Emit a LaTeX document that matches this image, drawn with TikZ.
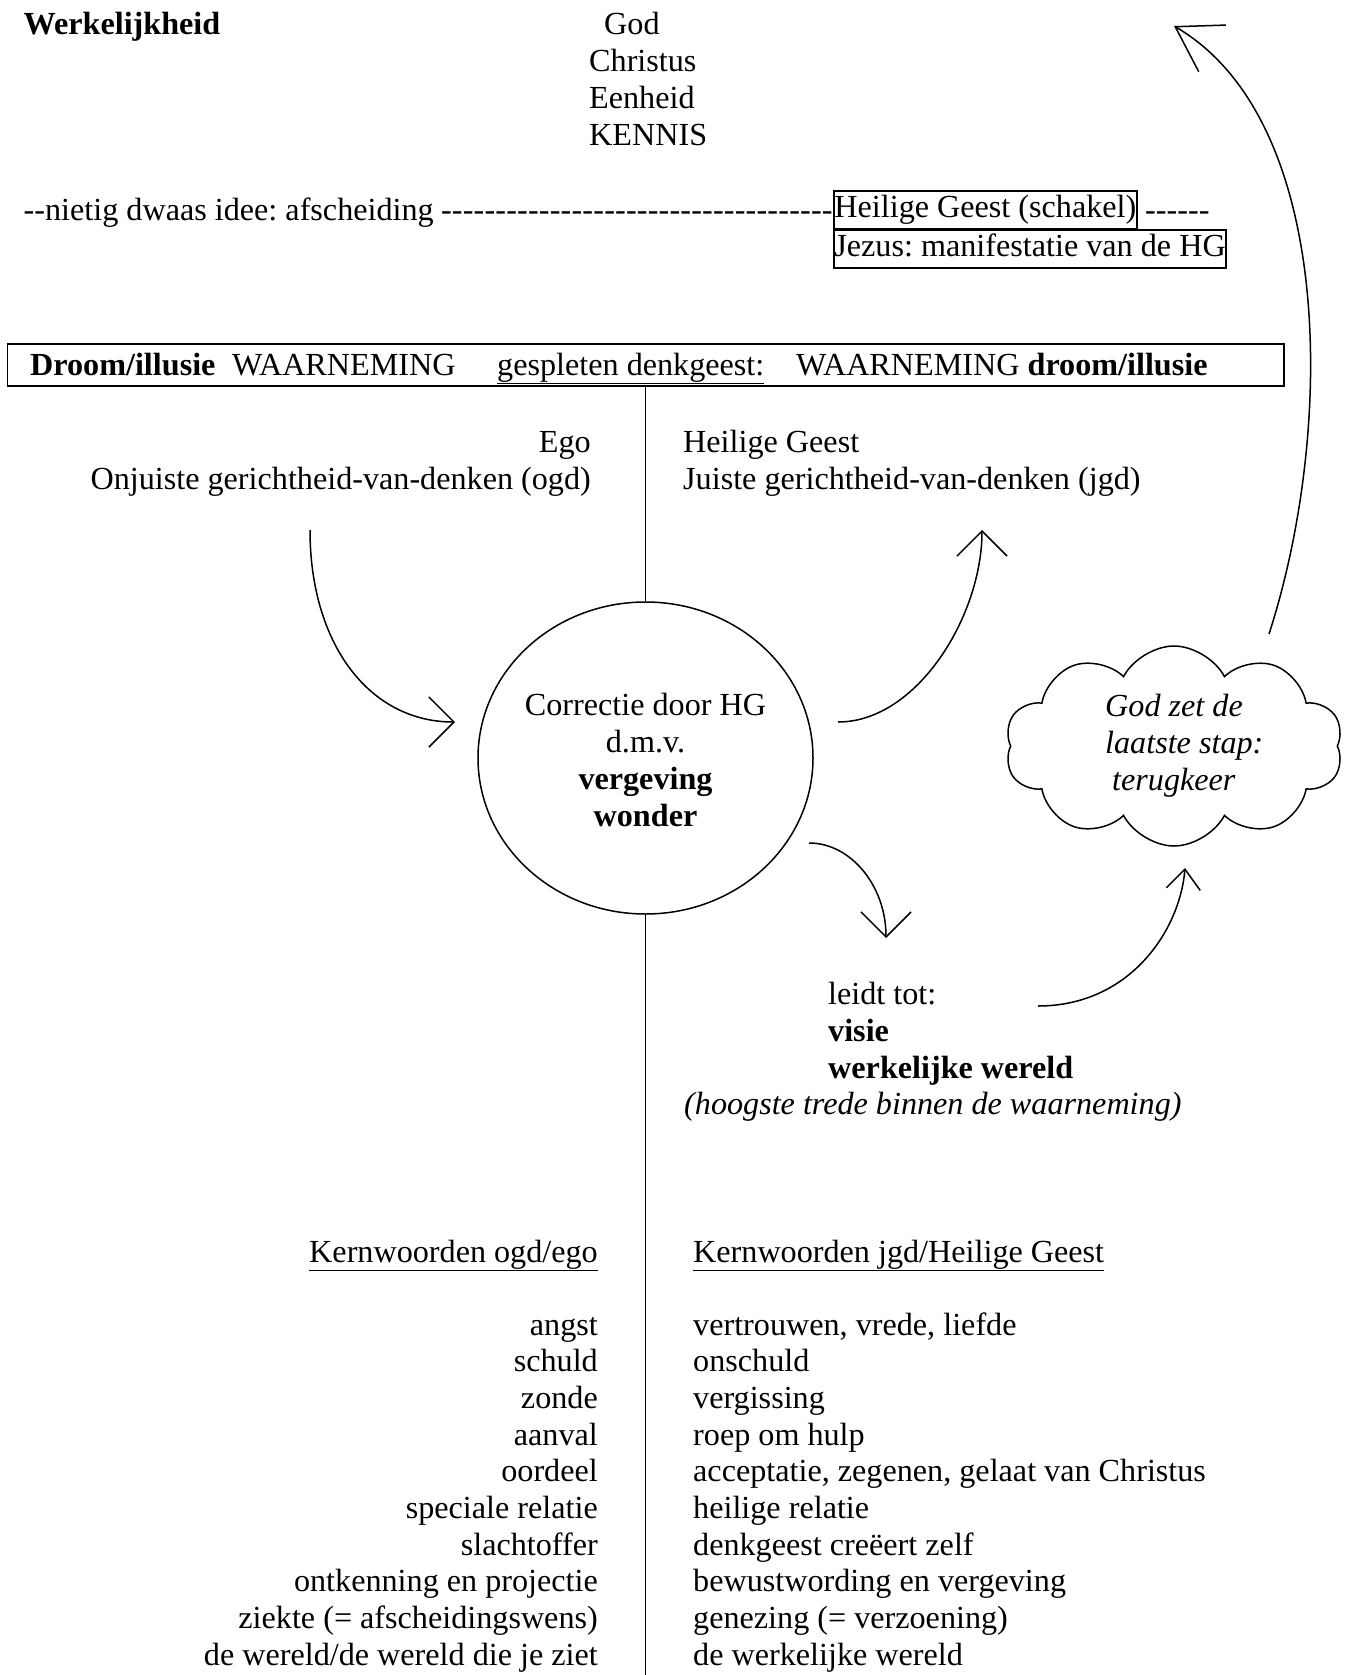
\documentclass[tikz,border=0pt]{standalone}
\usepackage{fontspec}
\setmainfont{Liberation Serif}
\usetikzlibrary{arrows.meta,shapes.geometric,shapes.symbols}
\newcount\hypcnt
\newcommand\hyps[1]{\hypcnt=0 \loop\ifnum\hypcnt<#1 -\kern0pt\advance\hypcnt by 1 \repeat}
\newcommand\hypsw[1]{\hypcnt=0 \loop\ifnum\hypcnt<#1 -\kern0.17pt\advance\hypcnt by 1 \repeat}
\frenchspacing
\begin{document}
\begin{tikzpicture}[x=1pt,y=-1pt,
  every node/.style={font=\fontsize{32.17}{37}\selectfont\frenchspacing, inner sep=0pt},
  tl/.style={anchor=base west},
  tr/.style={anchor=base east},
  boxed/.style={draw, line width=1.8pt, inner xsep=0.5pt, inner ysep=3pt, text height=24pt, text depth=8pt, anchor=north west},
  conn/.style={line width=1.5pt, -{Straight Barb[length=25pt,width=50pt]}},
  rul/.style={line width=1.5pt}]
\useasboundingbox (0,0) rectangle (1358,1675);

% top: reality
\node[tl, font=\fontsize{32.17}{37}\selectfont\bfseries] (werk) at (23.5,35) {Werkelijkheid};
\node[tl] (god) at (604,35) {God};
\node[tl] (christus) at (589,72) {Christus};
\node[tl] (eenheid) at (589,109) {Eenheid};
\node[tl] (kennis) at (589,146) {KENNIS};

\node[boxed] (hg) at (833,190) {Heilige Geest (schakel)};
\node[tl] (idee) at (23.5,220) {\hyps{2}nietig dwaas idee: afscheiding};
\node[tr] (ideedash) at (hg.west |- 0,220) {\hypsw{36}};
\node[tl] (hgdash) at (1145,220) {\hyps{6}};
\node[boxed] (jezus) at (833,229) {Jezus: manifestatie van de HG};

% split mind box
\node[draw, line width=1.8pt, minimum width=1276.5pt, minimum height=42pt] (split) at (645.75,365) {};
\node[tl, font=\fontsize{32.17}{37}\selectfont\bfseries] (droom1) at (30,375) {Droom/illusie};
\node[tl] (waar1) at (232,375) {WAARNEMING};
\node[tl] (gesp) at (497,375) {\underline{gespleten denkgeest:}};
\node[tl] (waar2) at (796,375) {WAARNEMING \textbf{droom/illusie}};

% ego / HG
\node[tr] (ego) at (591,452) {Ego};
\node[tr] (ogd) at (591,489) {Onjuiste gerichtheid-van-denken (ogd)};
\node[tl] (hg2) at (683,452) {Heilige Geest};
\node[tl] (jgd) at (683,489) {Juiste gerichtheid-van-denken (jgd)};

% correction circle
\node[ellipse, draw, line width=1.5pt, minimum width=335pt, minimum height=312pt] (circ) at (645.5,758) {};
\node[align=center] (circtext) at ([yshift=-2pt]circ.center) {Correctie door HG\\d.m.v.\\\textbf{vergeving}\\\textbf{wonder}};

\draw[rul] (circ.north |- split.south) -- (circ.north);
\coordinate (bottom) at (645.5,1675);
\draw[rul] (circ.south) -- (bottom);

% cloud
\node[cloud, draw, line width=1.5pt, cloud puffs=10, cloud puff arc=125, aspect=1.7, minimum width=338pt, minimum height=200pt] (cloud) at (1174,746) {};
\node[align=left, anchor=north west, font=\fontsize{32.17}{37}\selectfont\itshape] (cloudtext) at (1105,694) {God zet de\\laatste stap:\\\hspace*{7pt}terugkeer};

% leads to
\node[tl] (leidt) at (828,1004) {leidt tot:};
\node[tl, font=\fontsize{32.17}{37}\selectfont\bfseries] (visie) at (828,1041) {visie};
\node[tl, font=\fontsize{32.17}{37}\selectfont\bfseries] (wwereld) at (828,1078) {werkelijke wereld};
\node[tl, font=\fontsize{32.17}{37}\selectfont\itshape] (hoogste) at (684,1114) {(hoogste trede binnen de waarneming)};

% connectors
\coordinate (a1s) at (310,530);
\coordinate (a1e) at (455,722);
\draw[conn] (a1s) .. controls (310,645) and (370,722) .. (a1e);
\coordinate (a2s) at (838,722);
\coordinate (a2e) at (982,530);
\draw[conn] (a2s) .. controls (917,722) and (982,616) .. (a2e);
\coordinate (a3s) at (809,843);
\coordinate (a3e) at (886,938);
\draw[conn] (a3s) .. controls (851,843) and (886,886) .. (a3e);
\coordinate (a4s) at (1038,1006);
\coordinate (a4e) at (1185,868);
\draw[line width=1.5pt, -{Straight Barb[length=20pt,width=34pt]}] (a4s) .. controls (1130,1006) and (1180,930) .. (a4e);
\coordinate (a5s) at (1269,634);
\coordinate (a5e) at (1174,26);
\draw[line width=1.5pt, -{Straight Barb[length=43pt,width=54pt]}] (a5s) .. controls (1335,430) and (1335,120) .. (a5e);

% key words
\node[tr] (kl) at (598,1262) {\underline{Kernwoorden ogd/ego}};
\node[tl] (kr) at (693,1262) {\underline{Kernwoorden jgd/Heilige Geest}};

\node[tr] (l1) at (598,1335) {angst};
\node[tr] (l2) at (598,1371.67) {schuld};
\node[tr] (l3) at (598,1408.33) {zonde};
\node[tr] (l4) at (598,1445) {aanval};
\node[tr] (l5) at (598,1481.67) {oordeel};
\node[tr] (l6) at (598,1518.33) {speciale relatie};
\node[tr] (l7) at (598,1555) {slachtoffer};
\node[tr] (l8) at (598,1591.67) {ontkenning en projectie};
\node[tr] (l9) at (598,1628.33) {ziekte (= afscheidingswens)};
\node[tr] (l10) at (598,1665) {de wereld/de wereld die je ziet};

\node[tl] (r1) at (693,1335) {vertrouwen, vrede, liefde};
\node[tl] (r2) at (693,1371.67) {onschuld};
\node[tl] (r3) at (693,1408.33) {vergissing};
\node[tl] (r4) at (693,1445) {roep om hulp};
\node[tl] (r5) at (693,1481.67) {acceptatie, zegenen, gelaat van Christus};
\node[tl] (r6) at (693,1518.33) {heilige relatie};
\node[tl] (r7) at (693,1555) {denkgeest creëert zelf};
\node[tl] (r8) at (693,1591.67) {bewustwording en vergeving};
\node[tl] (r9) at (693,1628.33) {genezing (= verzoening)};
\node[tl] (r10) at (693,1665) {de werkelijke wereld};
\end{tikzpicture}
\end{document}
